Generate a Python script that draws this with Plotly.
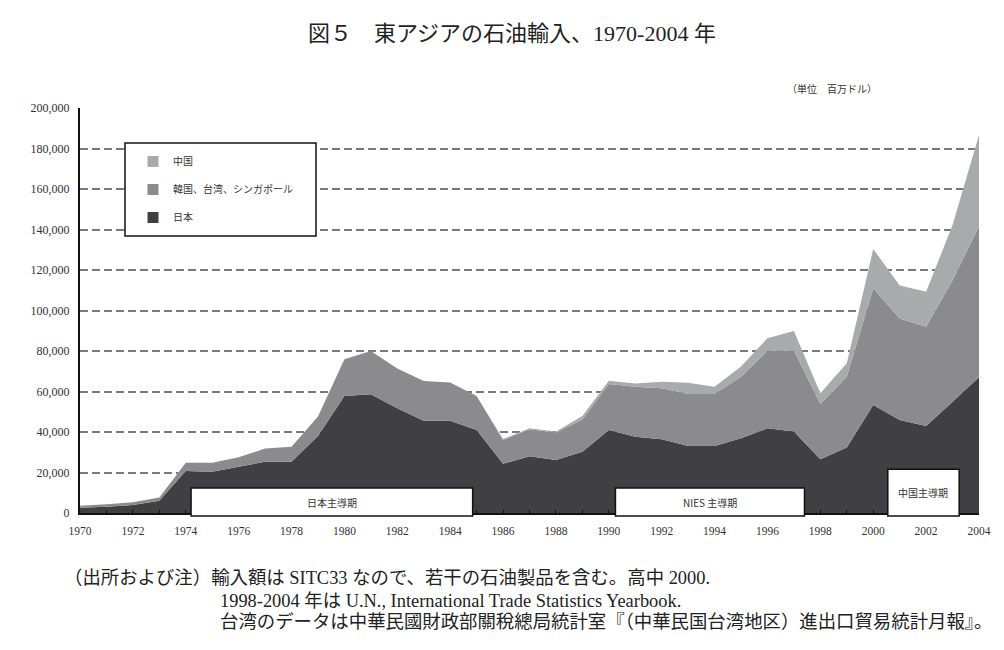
import plotly.graph_objects as go

# East Asian oil imports, million US$
years = list(range(1970, 2005))

japan = [2600, 3100, 4000, 6100, 20700, 20400, 22900, 25300, 25300, 38000,
         57800, 58600, 51700, 45600, 45600, 41000, 24300, 28000, 26200, 30300,
         41000, 37700, 36400, 33100, 33100, 36900, 41800, 40200, 26500, 32400,
         53300, 45900, 43000, 55000, 67000]

nies = [1000, 1200, 1300, 1600, 4100, 4400, 4600, 6600, 7400, 9600,
        18100, 21400, 19700, 19600, 18800, 16800, 11700, 13300, 13600, 15900,
        22700, 24700, 25200, 25700, 25700, 30400, 38300, 39900, 27300, 34900,
        57700, 50200, 49000, 60000, 74500]

china = [0, 0, 0, 0, 0, 0, 0, 0, 0, 0,
         0, 0, 0, 0, 0, 0, 500, 500, 500, 1700,
         1600, 1600, 3200, 5500, 3600, 5000, 6200, 9800, 5300, 6600,
         19400, 16200, 17300, 27200, 45200]

series_names = ["日本", "韓国、台湾、シンガポール", "中国"]
series_colors = ["#404042", "#8b8b8d", "#a9aaac"]

y_ticks = list(range(0, 200001, 20000))
x_ticks = list(range(1970, 2005, 2))

# periods marked on the chart: (label, start year, end year, top value)
periods = [("日本主導期", 1974.2, 1984.85, 12300),
           ("NIES 主導期", 1990.25, 1997.4, 12300),
           ("中国主導期", 2000.55, 2003.25, 21600)]

# plot area in page pixels; the page body adds an 8px margin
OFF = 8
L, R, T, B = 80, 979, 108, 513
W, H = 1004 - OFF, 650 - OFF

SERIF = "Liberation Serif, Noto Sans CJK JP, serif"
CJK = "Noto Sans CJK JP, Liberation Serif, serif"


def px_x(px):
    return (px - L) / (R - L)


def px_y(py):
    return (B - py) / (B - T)


def yr_x(yr):
    return (yr - years[0]) / (years[-1] - years[0])


def val_y(v):
    return v / y_ticks[-1]


fig = go.Figure()

for vals, name, color in zip([japan, nies, china], series_names, series_colors):
    fig.add_trace(go.Scatter(x=years, y=vals, stackgroup="one", mode="none",
                             fillcolor=color, name=name, showlegend=False,
                             hoverinfo="x+y+name"))

# legend swatches (China on top as in the original)
for name, color in zip(series_names[::-1], series_colors[::-1]):
    fig.add_trace(go.Scatter(x=[None], y=[None], mode="markers", name=name,
                             legendgroup=name,
                             marker=dict(symbol="square", size=11, color=color)))

shapes = []
annotations = []

# legend frame (white, covers the grid lines)
shapes.append(dict(type="rect", xref="paper", yref="paper",
                   x0=px_x(125), x1=px_x(316), y0=px_y(236), y1=px_y(143),
                   line=dict(color="#111", width=1.5), fillcolor="white", layer="above"))

for label, x0, x1, top in periods:
    shapes.append(dict(type="rect", xref="paper", yref="paper",
                       x0=yr_x(x0), x1=yr_x(x1), y0=px_y(516), y1=val_y(top),
                       line=dict(color="#111", width=1.5), fillcolor="white", layer="above"))
    annotations.append(dict(x=yr_x((x0 + x1) / 2), y=(px_y(516) + val_y(top)) / 2,
                            xref="paper", yref="paper", text=label, showarrow=False,
                            xanchor="center", yanchor="middle",
                            font=dict(family=CJK, size=10, color="#333")))

annotations.append(dict(x=px_x(512), y=px_y(33), xref="paper", yref="paper",
                        text="図５　東アジアの石油輸入、1970-2004 年", showarrow=False,
                        xanchor="center", yanchor="middle",
                        font=dict(family=SERIF, size=22, color="#222")))
annotations.append(dict(x=px_x(832), y=px_y(88), xref="paper", yref="paper",
                        text="（単位　百万ドル）", showarrow=False,
                        xanchor="center", yanchor="middle",
                        font=dict(family=CJK, size=10, color="#333")))

notes = [(62, 578, "（出所および注）輸入額は SITC33 なので、若干の石油製品を含む。高中 2000."),
         (218, 601, "1998-2004 年は U.N., International Trade Statistics Yearbook."),
         (218, 622, "台湾のデータは中華民國財政部關稅總局統計室『（中華民国台湾地区）進出口貿易統計月報』。")]
for nx, ny, text in notes:
    annotations.append(dict(x=px_x(nx), y=px_y(ny), xref="paper", yref="paper",
                            text=text, showarrow=False, xanchor="left", yanchor="middle",
                            font=dict(family=SERIF, size=18.4, color="#222")))

fig.update_layout(
    width=W, height=H,
    margin=dict(l=L - OFF, r=W - (R - OFF), t=T - OFF, b=H - (B - OFF), pad=0),
    paper_bgcolor="white", plot_bgcolor="white",
    shapes=shapes, annotations=annotations,
    legend=dict(x=px_x(133), y=px_y(147), xanchor="left", yanchor="top",
                bgcolor="rgba(0,0,0,0)", traceorder="grouped", tracegroupgap=9,
                font=dict(family=CJK, size=10, color="#333")),
    xaxis=dict(range=[years[0], years[-1]], tickvals=x_ticks, ticks="inside",
               ticklen=3, tickcolor="#111", showgrid=False, zeroline=False,
               showline=True, linecolor="#111", linewidth=2,
               minor=dict(dtick=1, tick0=1970, ticks="inside", ticklen=3, tickcolor="#111"),
               tickfont=dict(family=SERIF, size=11.5, color="#333"),
               ticklabelstandoff=6),
    yaxis=dict(range=[0, y_ticks[-1]], tickvals=y_ticks, tickformat=",d",
               showgrid=True, gridcolor="#7a7a7a", gridwidth=1.5, griddash="8px,4px",
               zeroline=False, showline=True, linecolor="#111", linewidth=2,
               ticks="", tickfont=dict(family=SERIF, size=12, color="#333"),
               ticklabelstandoff=6),
)

fig.write_html("out.html")
